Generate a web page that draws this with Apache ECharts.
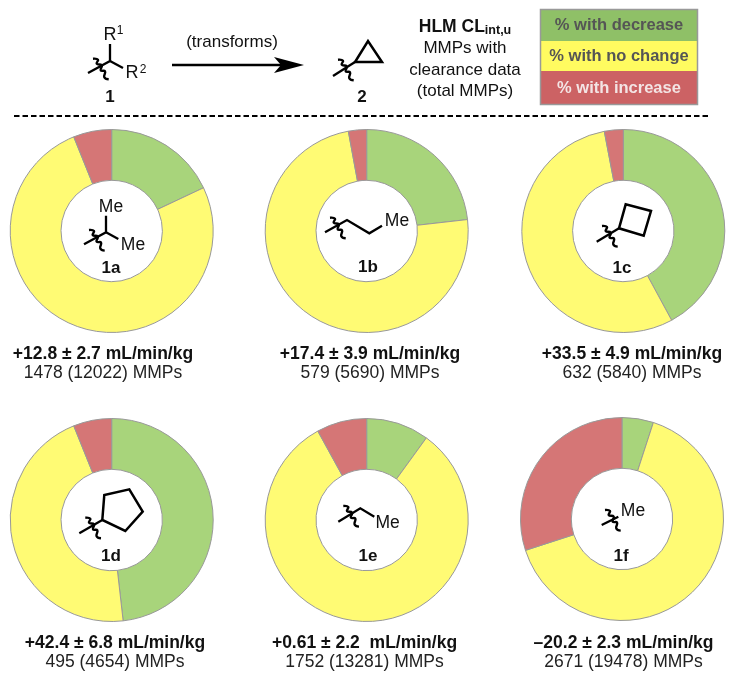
<!DOCTYPE html>
<html><head><meta charset="utf-8">
<style>html,body{margin:0;padding:0;background:#fff}#c{width:735px;height:681px}</style>
<script src="https://cdn.jsdelivr.net/npm/echarts@6/dist/echarts.min.js"></script>
</head><body><div id="c"></div>
<script>
const names = ['1a','1b','1c','1d','1e','1f'];
const pctDecrease = [18, 23.2, 42.1, 48.2, 10, 5];
const pctNoChange = [75.9, 73.9, 54.9, 45.7, 82, 65];
const pctIncrease = [6.1, 2.9, 3, 6.1, 8, 30];
const clearance = ['+12.8 ± 2.7 mL/min/kg','+17.4 ± 3.9 mL/min/kg','+33.5 ± 4.9 mL/min/kg','+42.4 ± 6.8 mL/min/kg','+0.61 ± 2.2  mL/min/kg','–20.2 ± 2.3 mL/min/kg'];
const counts = ['1478 (12022) MMPs','579 (5690) MMPs','632 (5840) MMPs','495 (4654) MMPs','1752 (13281) MMPs','2671 (19478) MMPs'];
const legendLabels = ['% with decrease','% with no change','% with increase'];

const FONT = '"Liberation Sans", Arial, sans-serif';
const ringColors = ['#A8D47B','#FFFB74','#D57676'];
const centers = [[111.7,231],[366.7,231],[623.3,231],[111.7,520],[366.7,520],[622,519]];
const R = ['50.7','101.5'];
const captionX = [103,370,632,115,364.5,623.5];
const captionY = [354,354,354,643,643,643];
const nameLabelPos = [[111,268],[368,267],[622,268],[111,556],[368,556],[621,556]];

const g = [];
const txt = (x,y,s,size,opt={}) => g.push({type:'text',x,y,z:10,silent:true,style:Object.assign({
  text:s,font:`${opt.bold?'bold ':''}${size}px ${FONT}`,fill:opt.fill||'#111',align:opt.align||'center',verticalAlign:'middle'},opt.style||{})});
const line = (pts,w=2.3,close=false) => g.push({type:close?'polygon':'polyline',z:10,silent:true,shape:{points:pts},style:{fill:null,stroke:'#000',lineWidth:w,lineJoin:'miter'}});
const waveOff = [[-17,-2.3],[-12,-1.3],[-13.3,2.7],[-8.3,4.3],[-9.3,9.3],[-5,10.3],[-5.7,16.3],[-1.3,18.3]];
const wave = (x,y) => g.push({type:'polyline',z:10,silent:true,shape:{points:waveOff.map(p=>[x+p[0],y+p[1]]),smooth:0.5},style:{fill:null,stroke:'#000',lineWidth:2.4}});

// Scheme: 1 -> 2
line([[88,73],[110,61],[110,44]]); line([[110,61],[123,68]]); wave(110,61);
txt(110,35,'R',18); txt(120,31,'1',12); txt(132,73,'R',18); txt(143,70,'2',12); txt(110,97,'1',17,{bold:true});
line([[172,65],[282,65]],2.5);
g.push({type:'polygon',z:10,silent:true,shape:{points:[[274,57],[304,65],[274,73],[281,65]]},style:{fill:'#000'}});
txt(232,42,'(transforms)',17);
line([[333,76],[355,62]]); line([[355,62],[382,62],[368,41]],2.5,true); wave(355,62);
txt(362,97,'2',17,{bold:true});
g.push({type:'text',x:465,y:27,z:10,silent:true,style:{text:'{b|HLM CL}{s|int,u}',align:'center',verticalAlign:'middle',rich:{
  b:{font:`bold 17.5px ${FONT}`,fill:'#111',verticalAlign:'middle'},s:{font:`bold 12.5px ${FONT}`,fill:'#111',padding:[7,0,0,0]}}}});
txt(465,48,'MMPs with',17); txt(465,70,'clearance data',17); txt(465,91,'(total MMPs)',17);

// Key
const keyBands = [[9.5,41,'#8FC067','#555'],[41,71,'#FFFB60','#555'],[71,105,'#CC6264','#F3E4E4']];
const keyTextY = [25,56,88];
keyBands.forEach((b,i)=>{
  g.push({type:'rect',z:5,silent:true,shape:{x:540,y:b[0],width:158,height:b[1]-b[0]},style:{fill:b[2]}});
  txt(619,keyTextY[i],legendLabels[i],16.5,{bold:true,fill:b[3]});
});
g.push({type:'rect',z:6,silent:true,shape:{x:540.5,y:9.5,width:157,height:95},style:{fill:null,stroke:'#999',lineWidth:1.5}});
g.push({type:'line',z:10,silent:true,shape:{x1:14,y1:116,x2:708,y2:116},style:{stroke:'#000',lineWidth:2,lineDash:[5.5,3]}});

// Centre structures
line([[84,244.3],[106,232.3],[106,215.7]]); line([[106,232.3],[118.3,239]]); wave(106,232.3);
txt(111,207.3,'Me',17.5); txt(133,245,'Me',17.5);
line([[325,232.3],[347,220],[369.3,233.3],[382,225.7]]); wave(347,220); txt(397,220.7,'Me',17.5);
line([[596.7,241.7],[619,228.3]]); line([[619,228.3],[625.7,204.3],[651,211],[643.7,235.7]],2.5,true); wave(619,228.3);
line([[79.3,533.3],[102.3,520]]); line([[102.3,520],[104.3,495],[129.3,489.3],[142.7,511.7],[125.3,531]],2.5,true); wave(102.3,520);
line([[338.3,521.7],[360.3,508.3],[374.3,516.7]]); wave(360.3,508.3); txt(387.7,522.7,'Me',17.5);
line([[601.7,525],[618.3,516.7]]); wave(622,512.3); txt(633,510.7,'Me',17.5);

const series = names.map((n,i)=>{
  txt(nameLabelPos[i][0],nameLabelPos[i][1],n,17,{bold:true});
  txt(captionX[i],captionY[i],clearance[i],17.5,{bold:true});
  txt(captionX[i],captionY[i]+19,counts[i],17.5,{fill:'#222'});
  return {
    type:'pie',name:n,center:centers[i],radius:R,startAngle:90,clockwise:true,silent:true,animation:false,
    avoidLabelOverlap:false,minAngle:0,label:{show:false},labelLine:{show:false},
    itemStyle:{borderColor:'#999',borderWidth:1},
    data:[
      {name:legendLabels[0],value:pctDecrease[i],itemStyle:{color:ringColors[0]}},
      {name:legendLabels[1],value:pctNoChange[i],itemStyle:{color:ringColors[1]}},
      {name:legendLabels[2],value:pctIncrease[i],itemStyle:{color:ringColors[2]}}
    ]
  };
});
const chart = echarts.init(document.getElementById('c'),null,{renderer:'canvas'});
chart.setOption({animation:false,backgroundColor:'#fff',tooltip:{show:false},series,graphic:{elements:g}});
</script></body></html>
